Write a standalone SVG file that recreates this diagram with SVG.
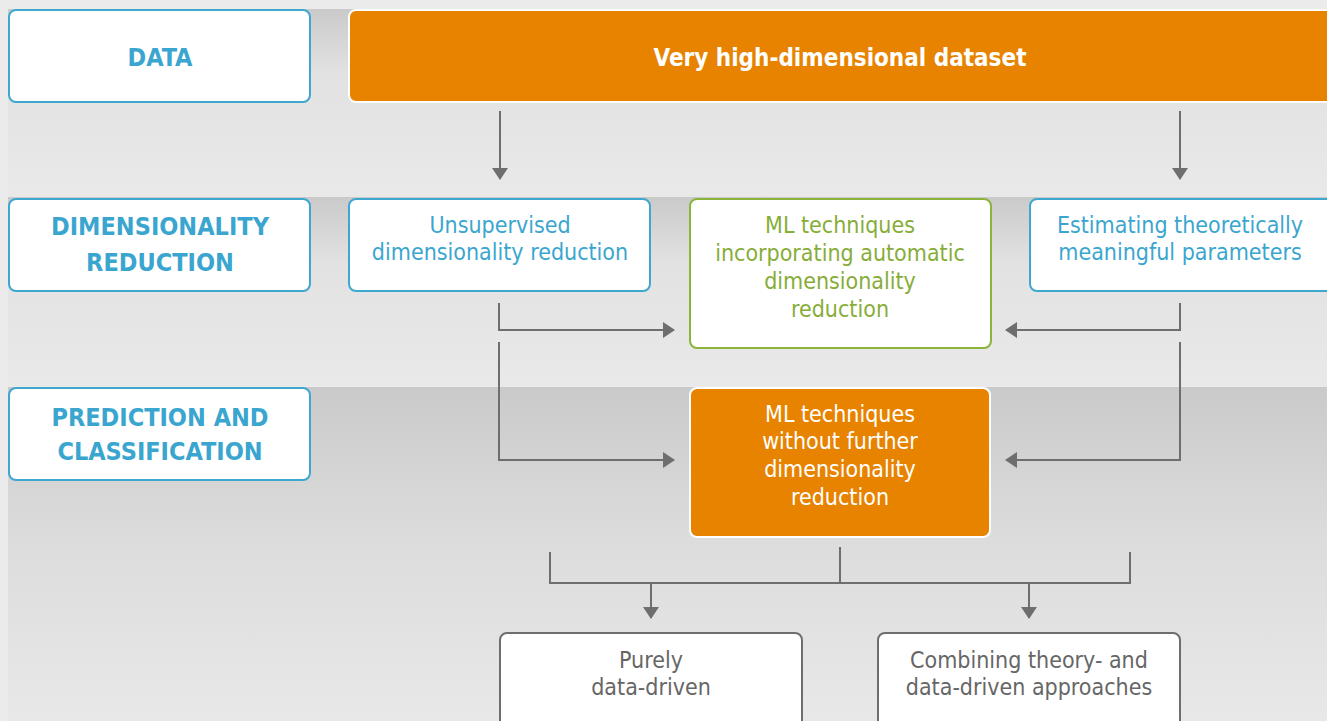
<svg xmlns="http://www.w3.org/2000/svg" width="1327" height="721" viewBox="0 0 1327 721">
<defs>
<linearGradient id="band" x1="0" y1="0" x2="0" y2="1">
<stop offset="0" stop-color="#cacaca"/>
<stop offset="0.35" stop-color="#e2e2e2"/>
<stop offset="1" stop-color="#e9e9e9"/>
</linearGradient>
<linearGradient id="band3" x1="0" y1="0" x2="0" y2="1">
<stop offset="0" stop-color="#cacaca"/>
<stop offset="0.45" stop-color="#dcdcdc"/>
<stop offset="1" stop-color="#e8e8e8"/>
</linearGradient>
<marker id="ah" viewBox="0 0 12 16" refX="11" refY="8" markerWidth="12" markerHeight="16" markerUnits="userSpaceOnUse" orient="auto">
<path d="M0,0 L12,8 L0,16 Z" fill="#6e6e6e"/>
</marker>
<style>
.lbl{fill:#fff;stroke:#3ea7d0;stroke-width:2}
.blue{fill:#fff;stroke:#3ea7d0;stroke-width:2}
.green{fill:#fff;stroke:#8ab43c;stroke-width:2}
.orange{fill:#e88300;stroke:#fff;stroke-width:2}
.grey{fill:#fff;stroke:#6e6e6e;stroke-width:2}
text{font-family:"DejaVu Sans Condensed","DejaVu Sans",sans-serif;text-anchor:middle}
.h{font-size:25px;font-weight:bold;fill:#3aa6cf}
.hw{font-size:24px;font-weight:bold;fill:#fff}
.tb{font-size:23px;fill:#3aa6cf}
.tg{font-size:23px;fill:#86ad38}
.tw{font-size:23px;fill:#fff}
.tk{font-size:23px;fill:#666}
.c{fill:none;stroke:#6e6e6e;stroke-width:2}
</style>
</defs>
<rect x="0" y="0" width="1327" height="721" fill="#ebebeb"/>
<rect x="8" y="9" width="1319" height="188" fill="url(#band)"/>
<rect x="8" y="197" width="1319" height="189" fill="url(#band)"/>
<rect x="8" y="387" width="1319" height="334" fill="url(#band3)"/>

<g id="connectors">
<path class="c" d="M500,111 V179" marker-end="url(#ah)"/>
<path class="c" d="M1180,111 V179" marker-end="url(#ah)"/>
<path class="c" d="M499,303 V330 H674" marker-end="url(#ah)"/>
<path class="c" d="M499,342 V460 H674" marker-end="url(#ah)"/>
<path class="c" d="M1180,303 V330 H1006" marker-end="url(#ah)"/>
<path class="c" d="M1180,342 V460 H1006" marker-end="url(#ah)"/>
<path class="c" d="M550,552 V583 H1130 V552"/>
<path class="c" d="M840,547 V583"/>
<path class="c" d="M651,583 V618" marker-end="url(#ah)"/>
<path class="c" d="M1029,583 V618" marker-end="url(#ah)"/>
</g>

<g id="label-data">
<rect class="lbl" x="9" y="10" width="301" height="92" rx="7"/>
<text class="h" x="160" y="66">DATA</text>
</g>
<g id="node-dataset">
<rect class="orange" x="349" y="10" width="990" height="92" rx="7"/>
<text class="hw" x="840" y="66">Very high-dimensional dataset</text>
</g>

<g id="label-dimred">
<rect class="lbl" x="9" y="199" width="301" height="92" rx="7"/>
<text class="h" x="160" y="235">DIMENSIONALITY</text>
<text class="h" x="160" y="271">REDUCTION</text>
</g>
<g id="node-unsupervised">
<rect class="blue" x="349" y="199" width="301" height="92" rx="7"/>
<text class="tb" x="500" y="233">Unsupervised</text>
<text class="tb" x="500" y="260">dimensionality reduction</text>
</g>
<g id="node-ml-auto">
<rect class="green" x="690" y="199" width="301" height="149" rx="7"/>
<text class="tg" x="840" y="233">ML techniques</text>
<text class="tg" x="840" y="261">incorporating automatic</text>
<text class="tg" x="840" y="289">dimensionality</text>
<text class="tg" x="840" y="317">reduction</text>
</g>
<g id="node-estimating">
<rect class="blue" x="1030" y="199" width="310" height="92" rx="7"/>
<text class="tb" x="1180" y="233">Estimating theoretically</text>
<text class="tb" x="1180" y="260">meaningful parameters</text>
</g>

<g id="label-prediction">
<rect class="lbl" x="9" y="388" width="301" height="92" rx="7"/>
<text class="h" x="160" y="426">PREDICTION AND</text>
<text class="h" x="160" y="460">CLASSIFICATION</text>
</g>
<g id="node-ml-without">
<rect class="orange" x="690" y="388" width="300" height="149" rx="7"/>
<text class="tw" x="840" y="422">ML techniques</text>
<text class="tw" x="840" y="449">without further</text>
<text class="tw" x="840" y="477">dimensionality</text>
<text class="tw" x="840" y="505">reduction</text>
</g>

<g id="node-purely">
<rect class="grey" x="500" y="633" width="302" height="110" rx="7"/>
<text class="tk" x="651" y="668">Purely</text>
<text class="tk" x="651" y="695">data-driven</text>
</g>
<g id="node-combining">
<rect class="grey" x="878" y="633" width="302" height="110" rx="7"/>
<text class="tk" x="1029" y="668">Combining theory- and</text>
<text class="tk" x="1029" y="695">data-driven approaches</text>
</g>
</svg>
